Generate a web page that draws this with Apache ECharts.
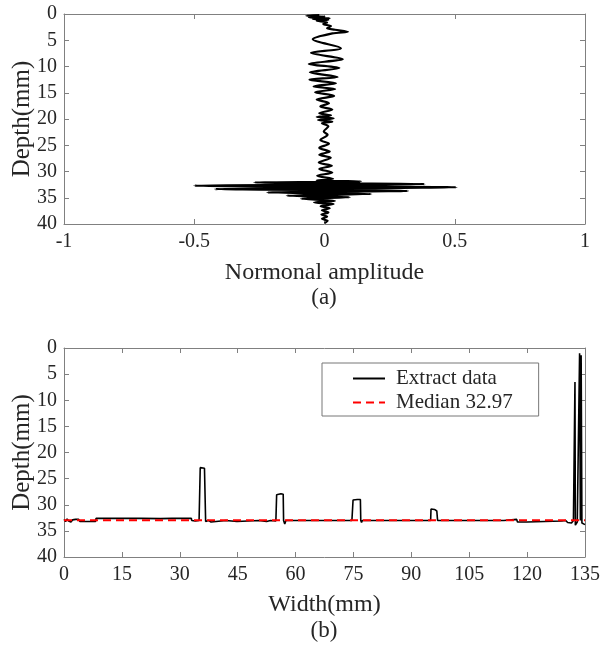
<!DOCTYPE html>
<html>
<head>
<meta charset="utf-8">
<script src="https://cdn.jsdelivr.net/npm/echarts@6/dist/echarts.min.js"></script>
<style>
html,body{margin:0;padding:0;background:#fff;}
#chart{width:603px;height:651px;}
</style>
</head>
<body>
<div id="chart"></div>
<script>
// ---- Panel (a): waveform (depth vs normalised amplitude) ----
var waveDepth = [0.2,0.35,0.5,0.65,0.8,0.95,1.1,1.3,1.6,1.9,2.3,2.7,3.0,3.4,3.7,4.8,6.5,7.4,8.6,9.5,10.3,11.1,12.0,12.5,13.2,13.8,14.3,14.9,15.6,16.3,17.0,17.6,18.2,18.9,19.3,19.6,19.9,20.2,20.5,20.8,21.4,22.4,23.0,24.0,24.7,25.5,26.2,26.8,27.4,28.3,28.9,29.5,30.2,30.8,31.4,31.7,31.9,32.1,32.4,32.7,33.0,33.35,33.7,34.0,34.3,34.6,34.9,35.2,35.6,35.9,36.2,36.6,37.0,37.4,37.8,38.2,38.6,39.0,39.4,39.8];
var waveAmp = [-0.02,-0.07,0.0,-0.06,0.02,-0.045,0.015,-0.03,0.01,-0.005,0.025,0.01,0.04,0.09,0.03,-0.045,0.063,-0.052,0.07,-0.06,0.057,-0.056,0.05,-0.058,0.044,-0.042,0.041,-0.036,0.037,-0.03,0.017,-0.016,0.03,-0.02,0.025,-0.03,0.035,-0.025,0.03,-0.01,0.015,-0.003,0.012,-0.016,0.017,-0.02,0.02,-0.02,0.024,-0.022,0.028,-0.02,0.03,-0.028,0.033,-0.03,0.14,-0.27,0.385,-0.50,0.507,-0.42,0.32,-0.22,0.18,-0.145,0.097,-0.09,0.04,-0.04,0.035,-0.015,0.02,-0.01,0.015,-0.012,0.01,-0.01,0.012,0.0];
var ampTicks = {min:-1, max:1, interval:0.5};

// ---- Panel (b): extracted depth along width ----
var extWidth = [0,0.4,0.8,1.2,1.5,1.8,2.2,2.6,3.0,3.4,3.8,4.1,4.5,5.5,7.0,8.2,8.3,20,25,28,33.0,33.1,34.0,35.0,35.2,35.3,35.7,36.4,36.6,36.7,37.0,37.4,37.8,38.1,38.5,42.0,42.2,44.8,45.0,50.5,50.7,51.5,52.5,53.5,54.0,54.9,55.1,55.5,56.2,56.6,56.8,56.9,57.2,57.5,74.6,74.8,74.9,75.2,76.0,76.8,76.9,77.1,77.3,95.0,95.1,95.5,96.0,96.6,96.8,114.0,114.2,117.3,117.5,120.0,120.2,129.0,129.5,130.0,130.5,131.0,131.5,132.0,132.3,132.4,132.5,133.0,133.3,133.6,133.8,134.0,134.2,134.6,135];
var extDepth = [32.8,33.2,32.7,33.1,32.8,33.3,32.9,33.2,32.8,33.0,32.8,33.2,33.3,33.2,33.2,33.2,32.6,32.6,32.65,32.6,32.6,33.0,33.1,33.0,33.0,22.9,22.8,23.0,23.0,33.2,33.4,33.0,32.8,33.3,33.0,33.0,33.2,33.2,33.0,33.0,33.2,33.1,33.2,33.0,33.2,33.1,28.1,27.8,27.9,27.8,28.0,33.0,33.7,33.0,33.0,33.1,29.1,28.8,29.0,29.0,33.0,33.4,33.0,33.0,30.8,30.6,30.9,31.2,33.0,33.0,32.8,32.8,33.3,33.3,33.1,33.1,33.3,33.0,33.4,33.1,33.5,33.0,33.2,6.5,33.9,33.3,33.5,1.0,33.0,1.4,33.5,33.3,33.8];
var medianValue = 32.97;
var widthRange = [0, 135];
var widthTicks = {min:0, max:135, interval:15};
var depthTicks = {min:0, max:40, interval:5};
var seriesNames = ['Extract data', 'Median 32.97'];
var panelLabels = ['(a)', '(b)'];
var axisNames = {amp:'Normonal amplitude', width:'Width(mm)', depth:'Depth(mm)'};

function pairs(xs, ys){ var o=[]; for(var i=0;i<xs.length;i++) o.push([xs[i], ys[i]]); return o; }

var FONT = 'Liberation Serif';
var AX = '#808080';
var LAB = '#262626';

function mainX(grid, t, name, gap){
  return {gridIndex:grid, type:'value', min:t.min, max:t.max, interval:t.interval, position:'bottom',
    axisLine:{show:true, onZero:false, lineStyle:{color:AX, width:1}},
    axisTick:{show:true, inside:true, length:5, lineStyle:{color:AX}},
    axisLabel:{color:LAB, fontSize:20, fontFamily:FONT, margin:8},
    splitLine:{show:false},
    name:name, nameLocation:'middle', nameGap:gap,
    nameTextStyle:{color:LAB, fontSize:24, fontFamily:FONT}};
}
function mirrorX(grid, t){
  return {gridIndex:grid, type:'value', min:t.min, max:t.max, interval:t.interval, position:'top',
    axisLine:{show:true, onZero:false, lineStyle:{color:AX, width:1}},
    axisTick:{show:true, inside:true, length:5, lineStyle:{color:AX}},
    axisLabel:{show:false}, splitLine:{show:false}};
}
function mainY(grid, t, name){
  return {gridIndex:grid, type:'value', inverse:true, min:t.min, max:t.max, interval:t.interval, position:'left',
    axisLine:{show:true, onZero:false, lineStyle:{color:AX, width:1}},
    axisTick:{show:true, inside:true, length:5, lineStyle:{color:AX}},
    axisLabel:{color:LAB, fontSize:20, fontFamily:FONT, margin:7},
    splitLine:{show:false},
    name:name, nameLocation:'middle', nameGap:29, nameMoveOverlap:false,
    nameTextStyle:{color:LAB, fontSize:25, fontFamily:FONT}};
}
function mirrorY(grid, t){
  return {gridIndex:grid, type:'value', inverse:true, min:t.min, max:t.max, interval:t.interval, position:'right',
    axisLine:{show:true, onZero:false, lineStyle:{color:AX, width:1}},
    axisTick:{show:true, inside:true, length:5, lineStyle:{color:AX}},
    axisLabel:{show:false}, splitLine:{show:false}};
}

var chart = echarts.init(document.getElementById('chart'), null, {renderer:'canvas'});
chart.setOption({
  animation:false,
  backgroundColor:'#ffffff',
  textStyle:{fontFamily:FONT},
  title:[
    {text:panelLabels[0], left:324, top:286, textAlign:'center', textStyle:{fontFamily:FONT, fontSize:23, fontWeight:'normal', color:LAB}, padding:0},
    {text:panelLabels[1], left:324, top:619, textAlign:'center', textStyle:{fontFamily:FONT, fontSize:23, fontWeight:'normal', color:LAB}, padding:0}
  ],
  grid:[
    {left:64, top:14, width:521, height:210, containLabel:false, outerBoundsMode:'none'},
    {left:64, top:348, width:521, height:209, containLabel:false, outerBoundsMode:'none'}
  ],
  xAxis:[
    mainX(0, ampTicks, axisNames.amp, 37),
    mirrorX(0, ampTicks),
    mainX(1, widthTicks, axisNames.width, 36),
    mirrorX(1, widthTicks)
  ],
  yAxis:[
    mainY(0, depthTicks, axisNames.depth),
    mirrorY(0, depthTicks),
    mainY(1, depthTicks, axisNames.depth),
    mirrorY(1, depthTicks)
  ],
  legend:{
    data:[seriesNames[0], seriesNames[1]],
    orient:'vertical', left:322, top:363,
    backgroundColor:'#fff', borderColor:'#777', borderWidth:1,
    padding:[5, 26, 3, 30],
    itemWidth:32, itemHeight:14, itemGap:3,
    itemStyle:{opacity:0},
    textStyle:{fontFamily:FONT, fontSize:21, color:LAB, padding:[0,0,0,6]}
  },
  series:[
    {type:'line', xAxisIndex:0, yAxisIndex:0, data:pairs(waveAmp, waveDepth),
      showSymbol:false, symbol:'none', smooth:0.3, lineStyle:{color:'#000', width:2.2}, z:3},
    {name:seriesNames[0], type:'line', xAxisIndex:2, yAxisIndex:2, data:pairs(extWidth, extDepth),
      showSymbol:false, symbol:'none', lineStyle:{color:'#000', width:1.6}, itemStyle:{color:'#000'}, z:3},
    {name:seriesNames[1], type:'line', xAxisIndex:2, yAxisIndex:2,
      data:[[widthRange[0], medianValue],[widthRange[1], medianValue]],
      showSymbol:false, symbol:'none', lineStyle:{color:'#ff0000', width:2, type:[8,5]}, itemStyle:{color:'#ff0000'}, z:4}
  ]
});
</script>
</body>
</html>
